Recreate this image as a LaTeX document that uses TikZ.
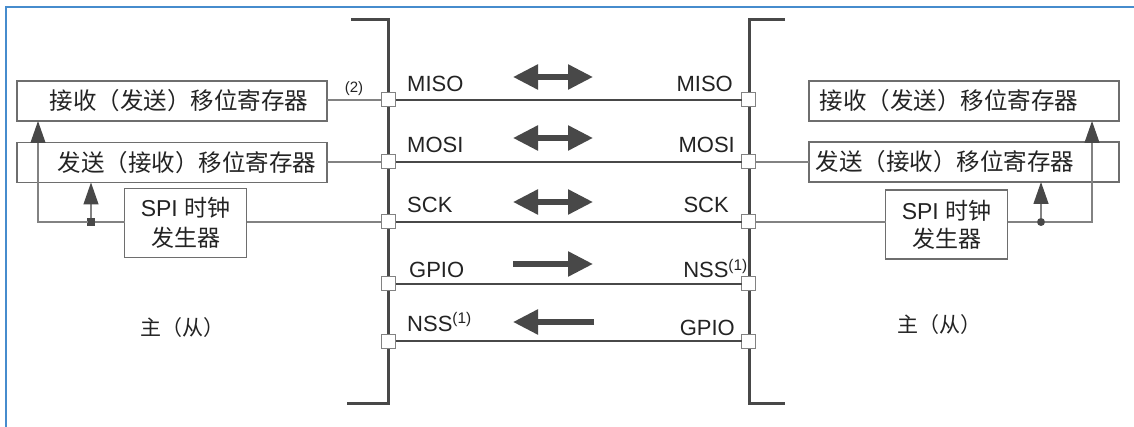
\documentclass[tikz,border=0pt]{standalone}
\usepackage{fontspec}
\setmainfont{Liberation Sans}
\newfontfamily\cjk{Noto Sans CJK SC}
\usetikzlibrary{arrows.meta}
\definecolor{bus}{RGB}{72,72,72}
\definecolor{thin}{RGB}{130,130,130}
\definecolor{boxc}{RGB}{110,110,110}
\definecolor{frameblue}{RGB}{70,140,205}
\definecolor{txt}{RGB}{35,35,35}
\begin{document}
\begin{tikzpicture}[x=1pt,y=-1pt,
 regbox/.style={draw=boxc,line width=1.4pt,minimum width=310pt,minimum height=40pt,inner sep=0pt,outer sep=0pt,font=\cjk\fontsize{23.5}{26}\selectfont,text=txt},
 clkbox/.style={draw=boxc,line width=1.4pt,minimum width=122pt,minimum height=69pt,inner sep=0pt,outer sep=0pt,align=center,font=\fontsize{23}{30}\selectfont,text=txt},
 pin/.style={draw=thin,fill=white,line width=1pt,minimum size=14pt,inner sep=0pt,outer sep=0pt},
 sig/.style={font=\fontsize{22}{24}\selectfont,text=txt,inner sep=0pt},
 cnlabel/.style={font=\cjk\fontsize{21}{24}\selectfont,text=txt,inner sep=0pt},
 wire/.style={draw=thin,line width=1.3pt},
 feed/.style={draw=thin,line width=1.3pt,-{Triangle[length=22pt,width=15pt,fill=bus,color=bus]}},
 busline/.style={draw=bus,line width=3pt},
 sigline/.style={draw=bus,line width=2pt},
 rarrow/.style={draw=bus,line width=5.5pt,-{Triangle[length=25pt,width=24pt]}},
 darrow/.style={draw=bus,line width=5.5pt,{Triangle[length=25pt,width=24pt]}-{Triangle[length=25pt,width=24pt]}},
]
\useasboundingbox (0,0) rectangle (1134,427);
% frame
\draw[frameblue,line width=2pt] (6,427) -- (6,7) -- (1134,7);
% bus brackets
\draw[busline] (351,20) -- (388,20) -- (388,403) -- (347,403);
\draw[busline] (785,20) -- (749,20) -- (749,403) -- (785,403);
% pins
\node[pin] (LP1) at (388.5,100) {};
\node[pin] (LP2) at (388.5,162) {};
\node[pin] (LP3) at (388.5,222) {};
\node[pin] (LP4) at (388.5,284) {};
\node[pin] (LP5) at (388.5,341) {};
\node[pin] (RP1) at (748.5,100) {};
\node[pin] (RP2) at (748.5,162) {};
\node[pin] (RP3) at (748.5,222) {};
\node[pin] (RP4) at (748.5,284) {};
\node[pin] (RP5) at (748.5,341) {};
\foreach \i in {1,...,5}{\draw[sigline] (LP\i.east) -- (RP\i.west);}
% signal labels
\node[sig,anchor=base west] (lmiso) at (407,91.5) {MISO};
\node[sig,anchor=base west] (lmosi) at (407,153) {MOSI};
\node[sig,anchor=base west] (lsck) at (407,213) {SCK};
\node[sig,anchor=base west] (lgpio) at (409,278) {GPIO};
\node[sig,anchor=base west] (lnss) at (407,331) {NSS\textsuperscript{(1)}};
\node[sig,anchor=base east] (rmiso) at (733,91.5) {MISO};
\node[sig,anchor=base east] (rmosi) at (735,153) {MOSI};
\node[sig,anchor=base east] (rsck) at (729,213) {SCK};
\node[sig,anchor=base east] (rnss) at (748,278) {NSS\textsuperscript{(1)}};
\node[sig,anchor=base east] (rgpio) at (735,335) {GPIO};
\node[font=\fontsize{15}{16}\selectfont,text=txt,inner sep=0pt] (two) at (354,89) {(2)};
% direction arrows
\draw[darrow] (513,77) -- (593,77);
\draw[darrow] (513,138) -- (593,138);
\draw[darrow] (513,202) -- (593,202);
\draw[rarrow] (513,264) -- (593,264);
\draw[rarrow] (594,322) -- (513,322);
% left side
\node[regbox] (LR) at (172,101) {\hspace*{14pt}接收（发送）移位寄存器};
\node[regbox] (LT) at (172,162.5) {\hspace*{30pt}发送（接收）移位寄存器};
\node[clkbox] (LC) at (185.5,223) {SPI {\cjk 时钟}\\{\cjk 发生器}};
\draw[wire] (LP1.west) -- (LP1.west -| LR.east);
\draw[wire] (LP2.west) -- (LP2.west -| LT.east);
\draw[wire] (LP3.west) -- (LP3.west -| LC.east);
\coordinate (LK) at (38,222);
\node[fill=bus,draw=bus,minimum size=7pt,inner sep=0pt,outer sep=0pt] (LJ) at (91,222) {};
\draw[wire] (LP3.west -| LC.west) -- (LJ.east);
\draw[feed] (LJ.west) -- (LK) -- (LK |- LR.south);
\draw[feed] (LJ.north) -- (LJ |- LT.south);
\node[cnlabel] (lms) at (182,328) {主（从）};
% right side
\node[regbox] (RR) at (964,101) {接收（发送）移位寄存器\hspace*{30pt}};
\node[regbox] (RT) at (964,162) {发送（接收）移位寄存器\hspace*{38pt}};
\node[clkbox,font=\fontsize{23}{28}\selectfont] (RC) at (946.5,224.5) {SPI {\cjk 时钟}\\{\cjk 发生器}};
\draw[wire] (RP2.east) -- (RP2.east -| RT.west);
\draw[wire] (RP3.east) -- (RP3.east -| RC.west);
\coordinate (RK) at (1092,222);
\node[circle,fill=bus,minimum size=8pt,inner sep=0pt,outer sep=0pt] (RJ) at (1041,222) {};
\draw[wire] (RP3.east -| RC.east) -- (RJ.west);
\draw[feed] (RJ.east) -- (RK) -- (RK |- RR.south);
\draw[feed] (RJ.north) -- (RJ |- RT.south);
\node[cnlabel] (rms) at (939,325) {主（从）};
\end{tikzpicture}
\end{document}
